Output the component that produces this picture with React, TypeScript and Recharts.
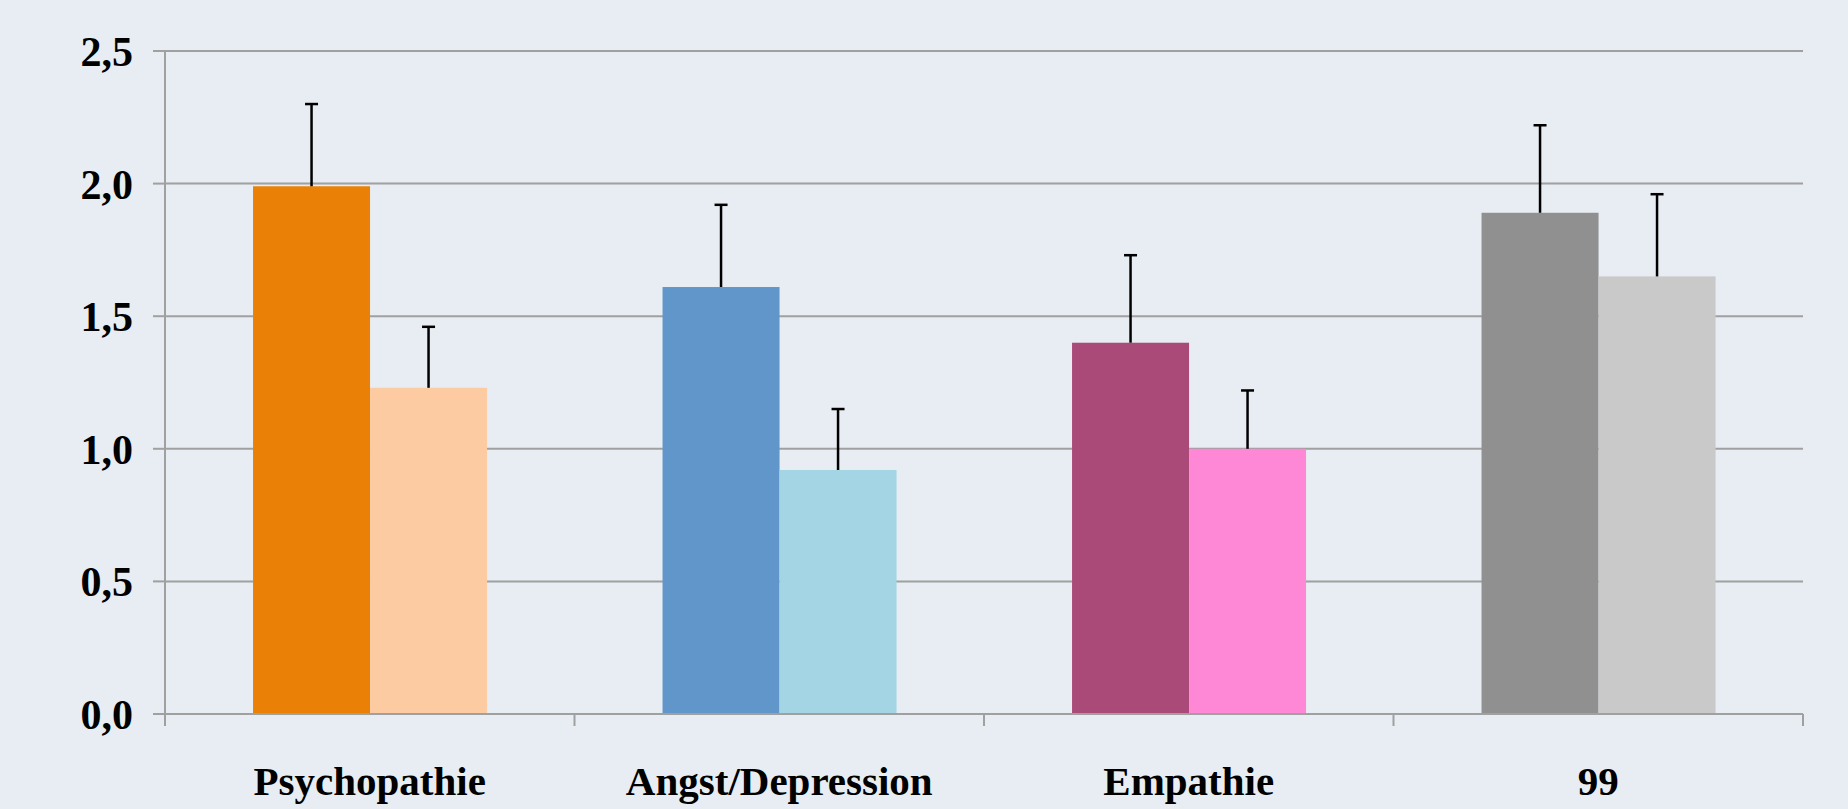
import React from "react"
import { Bar, BarChart, CartesianGrid, XAxis, YAxis } from "recharts"

const categories = ["Psychopathie", "Angst/Depression", "Empathie", "99"]
const groupA = [1.99, 1.61, 1.4, 1.89]
const groupB = [1.23, 0.92, 1.0, 1.65]
const errA = [0.31, 0.31, 0.33, 0.33]
const errB = [0.23, 0.23, 0.22, 0.31]
const colorsA = ["#EA8005", "#6096C9", "#AA4A78", "#909090"]
const colorsB = ["#FDCBA1", "#A3D5E4", "#FF88D6", "#C9C9C9"]
const yTicks = [0, 0.5, 1, 1.5, 2, 2.5]

const data = categories.map((name, i) => ({
  name,
  a: groupA[i],
  b: groupB[i],
  errA: errA[i],
  errB: errB[i],
  colorA: colorsA[i],
  colorB: colorsB[i],
}))

const font = "'Liberation Serif', 'Times New Roman', serif"
const axisColor = "#A0A0A0"
const X_TICK_SIZE = 12
const X_TICK_MARGIN = 40

function barWithError(valueKey: string, errKey: string, colorKey: string) {
  return (props: any) => {
    const { x, y, width, height, payload } = props
    const value = payload[valueKey]
    const errPx = value ? (payload[errKey] / value) * height : 0
    const cx = x + width / 2
    return (
      <g>
        <rect x={x} y={y} width={width} height={height} fill={payload[colorKey]} />
        <line x1={cx} x2={cx} y1={y} y2={y - errPx} stroke="#000" strokeWidth={2.5} />
        <line x1={cx - 6.5} x2={cx + 6.5} y1={y - errPx} y2={y - errPx} stroke="#000" strokeWidth={2.5} />
      </g>
    )
  }
}

function CategoryTick(props: any) {
  const { x, y, payload, index, width, visibleTicksCount } = props
  const half = payload?.offset || width / (visibleTicksCount || categories.length) / 2
  const axisY = y - X_TICK_MARGIN - X_TICK_SIZE
  return (
    <g>
      <line x1={x - half} x2={x - half} y1={axisY} y2={axisY + X_TICK_SIZE} stroke={axisColor} strokeWidth={2} />
      {index === categories.length - 1 && (
        <line x1={x + half} x2={x + half} y1={axisY} y2={axisY + X_TICK_SIZE} stroke={axisColor} strokeWidth={2} />
      )}
      <text x={x} y={y} dy="0.71em" textAnchor="middle" fill="#000" fontFamily={font} fontWeight="bold" fontSize={41}>
        {payload.value}
      </text>
    </g>
  )
}

export default function App() {
  return (
    <div style={{ position: "fixed", left: 0, top: 0, width: 1848, height: 809, background: "#E7EDF2" }}>
      <BarChart
        width={1848}
        height={809}
        data={data}
        margin={{ top: 51, right: 45, left: 0, bottom: 0 }}
        barCategoryGap="21.5%"
        barGap={0}
      >
        <CartesianGrid vertical={false} stroke={axisColor} strokeWidth={2} />
        <XAxis
          dataKey="name"
          height={95}
          stroke={axisColor}
          strokeWidth={2}
          tickLine={false}
          tickSize={X_TICK_SIZE}
          tickMargin={X_TICK_MARGIN}
          tick={<CategoryTick />}
          interval={0}
        />
        <YAxis
          width={165}
          domain={[0, 2.5]}
          ticks={yTicks}
          stroke={axisColor}
          strokeWidth={2}
          tickSize={12}
          tickMargin={20}
          tickFormatter={(v: number) => v.toFixed(1).replace(".", ",")}
          tick={{ fill: "#000", fontFamily: font, fontWeight: "bold", fontSize: 42 }}
        />
        <Bar dataKey="a" isAnimationActive={false} shape={barWithError("a", "errA", "colorA")} />
        <Bar dataKey="b" isAnimationActive={false} shape={barWithError("b", "errB", "colorB")} />
      </BarChart>
    </div>
  )
}
